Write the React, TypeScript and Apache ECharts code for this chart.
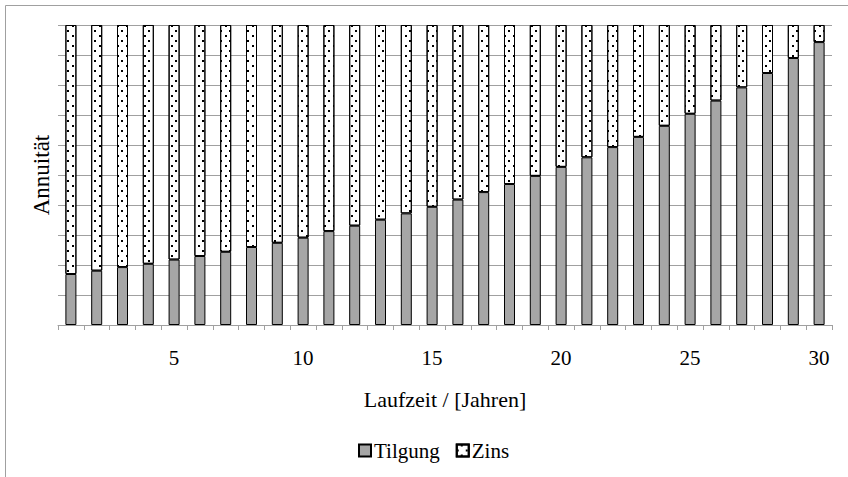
import React, { useEffect, useRef } from "react";
import * as echarts from "echarts";

const years = Array.from({ length: 30 }, (_, i) => String(i + 1));
const tilgung = [1.70, 1.81, 1.93, 2.04, 2.18, 2.30, 2.44, 2.60, 2.74, 2.91, 3.13, 3.31, 3.51, 3.72, 3.94, 4.18, 4.43, 4.70, 4.97, 5.27, 5.59, 5.93, 6.27, 6.64, 7.04, 7.48, 7.92, 8.40, 8.90, 9.43];
const zins = [8.30, 8.19, 8.07, 7.96, 7.82, 7.70, 7.56, 7.40, 7.26, 7.09, 6.87, 6.69, 6.49, 6.28, 6.06, 5.82, 5.57, 5.30, 5.03, 4.73, 4.41, 4.07, 3.73, 3.36, 2.96, 2.52, 2.08, 1.60, 1.10, 0.57];
const seriesNames = ["Tilgung", "Zins"];
const xTitle = "Laufzeit / [Jahren]";
const yTitle = "Annuität";

const FONT = "'Liberation Serif', 'Times New Roman', serif";

export default function App() {
  const ref = useRef<HTMLDivElement>(null);
  useEffect(() => {
    if (!ref.current) return;
    const chart = echarts.init(ref.current, undefined, { renderer: "svg" });
    chart.setOption({
      animation: false,
      backgroundColor: "#ffffff",
      textStyle: { fontFamily: FONT, color: "#000" },
      graphic: [
        { type: "line", shape: { x1: 5.5, y1: 5.5, x2: 848, y2: 5.5 }, style: { stroke: "#a0a0a0", lineWidth: 1 }, silent: true },
        { type: "line", shape: { x1: 5.5, y1: 5.5, x2: 5.5, y2: 477 }, style: { stroke: "#a0a0a0", lineWidth: 1 }, silent: true },
      ],
      grid: { left: 58, right: 16, top: 25, bottom: 152, containLabel: false },
      legend: {
        data: seriesNames,
        icon: "rect",
        left: 353,
        top: 435,
        itemWidth: 12,
        itemHeight: 12,
        itemGap: 16,
        textStyle: { fontFamily: FONT, fontSize: 21, color: "#000", padding: [0, 0, 0, -2] },
      },
      xAxis: {
        type: "category",
        data: years,
        boundaryGap: true,
        name: xTitle,
        nameLocation: "middle",
        nameGap: 63,
        nameTextStyle: { fontFamily: FONT, fontSize: 22, color: "#000" },
        axisLine: { lineStyle: { color: "#a0a0a0", width: 1 } },
        axisTick: { show: true, interval: 0, length: 5, lineStyle: { color: "#a0a0a0" } },
        axisLabel: {
          interval: (i: number) => (i + 1) % 5 === 0,
          fontFamily: FONT,
          fontSize: 21,
          color: "#000",
          margin: 22,
        },
        splitLine: { show: false },
      },
      yAxis: {
        type: "value",
        min: 0,
        max: 10,
        interval: 1,
        name: yTitle,
        nameLocation: "middle",
        nameRotate: 90,
        nameGap: 5,
        nameTextStyle: { fontFamily: FONT, fontSize: 23, color: "#000" },
        axisLine: { show: false },
        axisTick: { show: false },
        axisLabel: { show: false },
        splitLine: { lineStyle: { color: "#a0a0a0", width: 1 } },
      },
      series: [
        {
          name: seriesNames[0],
          type: "bar",
          stack: "a",
          data: tilgung,
          barWidth: 11,
          itemStyle: { color: "#a6a6a6", borderColor: "#000", borderWidth: 1 },
        },
        {
          name: seriesNames[1],
          type: "bar",
          stack: "a",
          data: zins,
          barWidth: 11,
          itemStyle: {
            color: "#ffffff",
            borderColor: "#000",
            borderWidth: 1,
            decal: {
              symbol: "rect",
              symbolSize: 1,
              color: "#000",
              dashArrayX: [[1.5, 6.5], [0, 4, 1.5, 2.5]],
              dashArrayY: [1.5, 2.5],
            },
          },
        },
      ],
    });
    return () => chart.dispose();
  }, []);
  return (
    <div
      ref={ref}
      style={{ position: "fixed", left: 0, top: 0, width: 848, height: 477 }}
    />
  );
}
